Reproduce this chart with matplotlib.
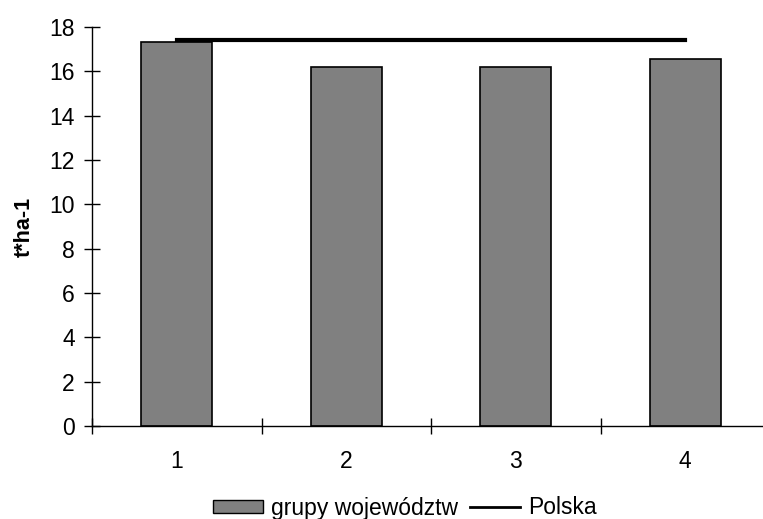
import numpy as np
import matplotlib.pyplot as plt
from matplotlib.ticker import FixedLocator
from matplotlib.lines import Line2D
from matplotlib.patches import Patch

# data
groups = [1, 2, 3, 4]
group_vals = [17.33, 16.19, 16.19, 16.55]
polska = [17.42, 17.42, 17.42, 17.42]
yticks = list(range(0, 19, 2))

plt.rcParams['font.family'] = ['Liberation Sans', 'DejaVu Sans']
fs = 16.5

fig = plt.figure(figsize=(7.63, 5.19), dpi=100)
ax = fig.add_axes([92/763, 93/519, 678/763, 399/519])

x = np.arange(len(groups))
ax.bar(x, group_vals, width=0.42, color='#808080', edgecolor='black',
       linewidth=1.2, zorder=2)
ax.plot(x, polska, color='black', linewidth=3, zorder=3)

ax.set_xlim(-0.5, 3.5)
ax.set_ylim(0, 18)
ax.set_yticks(yticks)
ax.set_xticks(x)
ax.set_xticklabels([str(g) for g in groups])
ax.xaxis.set_minor_locator(FixedLocator(np.arange(-0.5, 4, 1)))
ax.tick_params(axis='x', which='major', length=0, pad=17, labelsize=fs)
ax.tick_params(axis='x', which='minor', direction='inout', length=11, width=1)
ax.tick_params(axis='y', direction='inout', length=11, width=1, pad=7, labelsize=fs)

for side in ['top', 'right']:
    ax.spines[side].set_visible(False)
for side in ['left', 'bottom']:
    ax.spines[side].set_linewidth(1)

ax.set_ylabel('t*ha-1', fontsize=15.5, fontweight='bold', labelpad=10)

handles = [Patch(facecolor='#808080', edgecolor='black', linewidth=1),
           Line2D([], [], color='black', linewidth=2)]
fig.legend(handles, ['grupy województw', 'Polska'], loc='center',
           bbox_to_anchor=(405/763, 1 - 508/519), ncol=2, frameon=False,
           fontsize=fs, handlelength=2.2, handleheight=0.52,
           handletextpad=0.35, columnspacing=0.5)

fig.savefig('out.png', dpi=100)
